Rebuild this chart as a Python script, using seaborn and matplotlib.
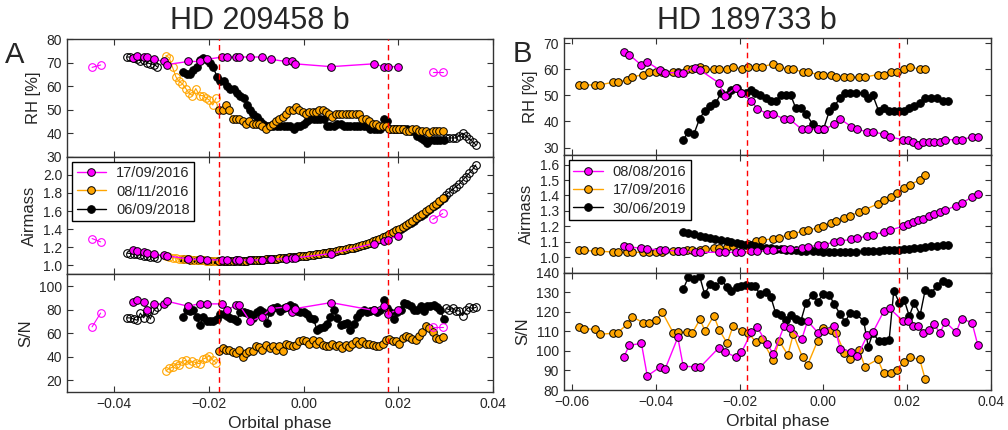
import matplotlib
matplotlib.use("Agg")
import matplotlib.pyplot as plt
from matplotlib.lines import Line2D
from matplotlib.ticker import FuncFormatter, MultipleLocator
import seaborn as sns

sns.set_style("ticks")
plt.rcParams['font.family'] = ['Liberation Sans', 'DejaVu Sans']

MAGENTA = '#FF00FF'
ORANGE = '#FFA500'
BLACK = '#000000'

# ---------------- HD 209458 b (panel A) ----------------
a_labels = ['17/09/2016', '08/11/2016', '06/09/2018']
a_transit = [-0.0179, 0.0179]

# 17/09/2016 (magenta)
mag_a_phase = [-0.0360, -0.0353, -0.0337, -0.0330, -0.0316, -0.0295, -0.0288, -0.0244, -0.0220,
               -0.0205, -0.0172, -0.0162, -0.0143, -0.0136, -0.0113, -0.0088, -0.0069, -0.0037,
               -0.0025, -0.0018, 0.0058, 0.0148, 0.0169, 0.0178, 0.0199]
mag_a_rh = [72, 73, 72.4, 72.4, 71.4, 70.5, 69.2, 70.5, 70.5, 71.4, 72.4, 72.4, 72.4, 72.4, 72.4,
            72.4, 71.4, 70.5, 70.5, 69.5, 68.3, 69.5, 68.3, 68.3, 68.3]
mag_a_am = [1.168, 1.160, 1.142, 1.135, 1.120, 1.113, 1.106, 1.070, 1.065, 1.062, 1.058, 1.058,
            1.058, 1.058, 1.058, 1.060, 1.065, 1.075, 1.080, 1.082, 1.130, 1.240, 1.270, 1.285, 1.325]
mag_a_sn = [86.3, 88.3, 86.3, 79.4, 84.9, 84.9, 87.1, 82.9, 85.1, 84.9, 84.9, 79.4, 84.0, 84.0,
            70.0, 74.0, 80.9, 82.3, 78.0, 80.9, 86.0, 79.4, 82.9, 76.6, 79.7]
mag_a_out_left_phase = [-0.0447, -0.0429]
mag_a_out_left_rh = [68, 69]
mag_a_out_left_am = [1.296, 1.259]
mag_a_out_left_sn = [65.4, 77.1]
mag_a_out_right_phase = [0.0273, 0.0294]
mag_a_out_right_rh = [66, 66]
mag_a_out_right_am = [1.507, 1.573]
mag_a_out_right_sn = [65.4, 65.4]

# 08/11/2016 (orange); the first 16 exposures are drawn as open circles
ora_a_n_out = 16
ora_a_phase = [-0.0291, -0.0284, -0.0277, -0.0270, -0.0263, -0.0256, -0.0249, -0.0242, -0.0235,
               -0.0228, -0.0220, -0.0213, -0.0206, -0.0199, -0.0192, -0.0185, -0.0178, -0.0171,
               -0.0164, -0.0157, -0.0150, -0.0143, -0.0136, -0.0129, -0.0122, -0.0115, -0.0108,
               -0.0101, -0.0094, -0.0087, -0.0079, -0.0072, -0.0065, -0.0058, -0.0051, -0.0044,
               -0.0037, -0.0030, -0.0023, -0.0016, -0.0009, -0.0002, 0.0005, 0.0012, 0.0019,
               0.0026, 0.0033, 0.0040, 0.0047, 0.0054, 0.0061, 0.0068, 0.0075, 0.0082, 0.0089,
               0.0096, 0.0103, 0.0110, 0.0117, 0.0124, 0.0132, 0.0139, 0.0146, 0.0153, 0.0160,
               0.0167, 0.0174, 0.0181, 0.0188, 0.0195, 0.0202, 0.0209, 0.0216, 0.0223, 0.0230,
               0.0237, 0.0244, 0.0251, 0.0258, 0.0265, 0.0273, 0.0280, 0.0287, 0.0294]
ora_a_rh = [73, 72, 68, 64, 62, 61, 59, 57, 56, 59, 56, 56, 55, 54, 52, 55,
            50, 50, 52, 50, 46, 46, 46, 45, 44, 45,
            44, 44, 44, 43, 42, 43, 44, 45, 46, 47,
            48, 50, 50, 51, 50, 49, 48, 49, 49, 49,
            50, 50, 49, 48, 47, 48, 48, 48, 48, 48,
            48, 48, 48, 46, 46, 45, 44, 44, 43, 43,
            43, 42, 42, 42, 42, 42, 41, 41, 42, 42,
            41, 41, 41, 40, 41, 41, 41, 41]
ora_a_am = [1.100, 1.090, 1.085, 1.080, 1.075, 1.070, 1.068, 1.065, 1.060, 1.058, 1.056, 1.055,
            1.053, 1.052, 1.050, 1.050,
            1.049, 1.048, 1.047, 1.047, 1.047, 1.047, 1.048, 1.050, 1.052, 1.054,
            1.056, 1.058, 1.060, 1.063, 1.065, 1.068, 1.071, 1.074, 1.077, 1.080,
            1.084, 1.088, 1.092, 1.095, 1.099, 1.103, 1.107, 1.111, 1.116, 1.120,
            1.125, 1.131, 1.137, 1.143, 1.150, 1.157, 1.164, 1.171, 1.178, 1.186,
            1.195, 1.205, 1.215, 1.225, 1.237, 1.250, 1.264, 1.278, 1.293, 1.310,
            1.328, 1.346, 1.365, 1.385, 1.405, 1.427, 1.449, 1.472, 1.495, 1.518,
            1.543, 1.570, 1.597, 1.625, 1.653, 1.683, 1.713, 1.745]
ora_a_sn = [28, 30, 31, 34, 33, 36, 37, 34, 36, 35, 34, 38, 39, 41, 37, 35,
            45, 47, 46, 46, 44, 43, 46, 40, 43, 45,
            45, 49, 48, 46, 50, 47, 49, 46, 49, 45,
            51, 50, 49, 50, 53, 54, 53, 51, 54, 51,
            53, 50, 49, 49, 51, 49, 50, 47, 50, 48,
            51, 53, 51, 53, 51, 51, 50, 49, 49, 51,
            54, 55, 53, 53, 51, 56, 58, 57, 55, 54,
            58, 61, 66, 64, 61, 56, 55, 57]

# 06/09/2018 (black): open circles before and after, filled in between
blk_a_pre_phase = [-0.0373, -0.0366, -0.0359, -0.0352, -0.0345, -0.0338, -0.0331, -0.0324,
                   -0.0316, -0.0309]
blk_a_pre_rh = [72.4, 72.4, 71.8, 71.4, 70.8, 71.0, 70.0, 69.5, 69.2, 68.2]
blk_a_pre_am = [1.135, 1.130, 1.125, 1.120, 1.114, 1.108, 1.102, 1.096, 1.090, 1.085]
blk_a_pre_sn = [73, 73, 72, 71, 77, 73, 78, 72, 80, 82]

blk_a_phase = [-0.0254, -0.0247, -0.0240, -0.0233, -0.0226, -0.0219, -0.0212, -0.0205, -0.0198,
               -0.0191, -0.0183, -0.0176, -0.0169, -0.0162, -0.0155, -0.0148, -0.0141, -0.0134,
               -0.0127, -0.0120, -0.0113, -0.0106, -0.0099, -0.0092, -0.0085, -0.0078, -0.0071,
               -0.0064, -0.0056, -0.0049, -0.0042, -0.0035, -0.0028, -0.0021, -0.0014, -0.0007,
               0.0000, 0.0007, 0.0014, 0.0021, 0.0028, 0.0035, 0.0042, 0.0049, 0.0056, 0.0064,
               0.0071, 0.0078, 0.0085, 0.0092, 0.0099, 0.0106, 0.0113, 0.0120, 0.0127, 0.0134,
               0.0141, 0.0148, 0.0155, 0.0162, 0.0169, 0.0176, 0.0183, 0.0191, 0.0198, 0.0205,
               0.0212, 0.0219, 0.0226, 0.0233, 0.0240, 0.0247, 0.0254, 0.0261, 0.0268, 0.0275,
               0.0282, 0.0289, 0.0296]
blk_a_rh = [66, 65, 65, 67, 68, 71, 72, 71, 70, 68,
            64, 62, 62, 60, 59, 59, 57, 56, 55, 52,
            50, 48, 47, 45, 44, 43, 43, 43, 43, 43,
            43, 43, 43, 42, 43, 43, 44, 45, 46, 46,
            46, 46, 46, 43, 43, 43, 44, 44, 43, 43,
            43, 43, 43, 43, 43, 43, 42, 42, 42, 42,
            46, 45, 42, 42, 42, 42, 42, 42, 41, 41,
            39, 38, 37, 36, 37, 37, 37, 37, 37]
blk_a_am = [1.068, 1.066, 1.063, 1.060, 1.058, 1.056, 1.054, 1.053, 1.051, 1.050,
            1.049, 1.049, 1.048, 1.047, 1.047, 1.047, 1.060, 1.048, 1.050, 1.052,
            1.054, 1.056, 1.058, 1.060, 1.063, 1.065, 1.068, 1.071, 1.074, 1.077,
            1.080, 1.084, 1.088, 1.092, 1.095, 1.099, 1.103, 1.107, 1.111, 1.116,
            1.120, 1.125, 1.131, 1.137, 1.143, 1.150, 1.157, 1.164, 1.171, 1.178,
            1.186, 1.195, 1.205, 1.215, 1.225, 1.237, 1.250, 1.264, 1.278, 1.293,
            1.310, 1.328, 1.346, 1.365, 1.385, 1.405, 1.427, 1.449, 1.472, 1.495,
            1.518, 1.543, 1.570, 1.597, 1.625, 1.653, 1.683, 1.713, 1.745]
blk_a_sn = [74, 80, 79, 80, 74, 67, 74, 70, 70, 70,
            72, 76, 76, 75, 73, 72, 70, 78, 78, 77,
            76, 73, 78, 80, 78, 69, 78, 81, 82, 79,
            81, 82, 84, 82, 79, 78, 78, 76, 73, 72,
            63, 64, 65, 68, 74, 80, 73, 67, 68, 69,
            63, 68, 74, 77, 80, 78, 79, 80, 78, 80,
            88, 81, 78, 72, 78, 80, 86, 85, 83, 80,
            80, 83, 79, 83, 83, 84, 82, 80, 72]

blk_a_post_phase = [0.0301, 0.0308, 0.0315, 0.0322, 0.0329, 0.0336, 0.0343, 0.0350, 0.0357, 0.0364]
blk_a_post_rh = [38, 38, 38, 38, 39, 40, 39, 37.6, 36.4, 35]
blk_a_post_am = [1.78, 1.81, 1.84, 1.87, 1.90, 1.94, 1.98, 2.02, 2.06, 2.11]
blk_a_post_sn = [81, 80, 81, 79, 79, 75, 80, 82, 81, 82]

# ---------------- HD 189733 b (panel B) ----------------
b_labels = ['08/08/2016', '17/09/2016', '30/06/2019']
b_transit = [-0.0183, 0.0181]

mag_b_phase = [-0.0477, -0.0464, -0.0435, -0.0421, -0.0391, -0.0378, -0.0348, -0.0335, -0.0308,
               -0.0295, -0.0250, -0.0236, -0.0210, -0.0196, -0.0172, -0.0158, -0.0134, -0.0120,
               -0.0094, -0.0081, -0.0052, -0.0038, -0.0012, 0.0002, 0.0026, 0.0040, 0.0067,
               0.0081, 0.0105, 0.0118, 0.0145, 0.0158, 0.0189, 0.0201, 0.0215, 0.0227, 0.0239,
               0.0253, 0.0265, 0.0278, 0.0291, 0.0317, 0.0330, 0.0355, 0.0369]
mag_b_rh = [66.8, 65.6, 61.6, 62.8, 59.7, 58.7, 58.7, 58.7, 60.6, 59.7,
            54.8, 49.7, 52.8, 50.9, 47.8, 44.9, 42.9, 42.9, 40.9, 40.9,
            37, 37, 37, 37, 38.9, 40.9, 38, 37, 36, 36,
            35.1, 34.1, 33, 33, 32, 31, 32, 32, 32, 32,
            33, 33, 33, 34.1, 34.1]
mag_b_am = [1.073, 1.067, 1.058, 1.054, 1.047, 1.045, 1.040, 1.039, 1.032, 1.032,
            1.032, 1.032, 1.032, 1.032, 1.039, 1.039, 1.045, 1.045, 1.052, 1.052,
            1.062, 1.067, 1.077, 1.082, 1.099, 1.105, 1.116, 1.123, 1.138, 1.146,
            1.163, 1.174, 1.200, 1.213, 1.228, 1.239, 1.249, 1.265, 1.277, 1.292,
            1.303, 1.335, 1.351, 1.389, 1.411]
mag_b_sn = [96.9, 102.8, 103.9, 87.2, 91.6, 90.9, 106.9, 92.1, 91.9, 91.6,
            101.6, 99.6, 96.9, 99.3, 109.5, 112.0, 103.5, 98.4, 112.7, 111.9,
            105.9, 115.3, 109.0, 110.2, 112.7, 101.0, 99.6, 97.4, 108.0, 109.5,
            120.6, 121.8, 115.5, 115.3, 112.7, 112.7, 109.3, 110.7, 113.6, 109.0,
            114.9, 109.5, 116.5, 114.4, 102.8]

ora_b_phase = [-0.0583, -0.0571, -0.0547, -0.0535, -0.0504, -0.0492, -0.0469, -0.0457, -0.0431,
               -0.0417, -0.0399, -0.0385, -0.0359, -0.0347, -0.0326, -0.0314, -0.0295, -0.0283,
               -0.0262, -0.0249, -0.0230, -0.0216, -0.0194, -0.0180, -0.0162, -0.0148, -0.0120,
               -0.0106, -0.0085, -0.0072, -0.0050, -0.0038, -0.0014, -0.0002, 0.0018, 0.0030,
               0.0050, 0.0064, 0.0085, 0.0099, 0.0130, 0.0144, 0.0161, 0.0176, 0.0193, 0.0206,
               0.0230, 0.0243]
ora_b_rh = [54, 54, 54, 54, 55, 55, 56, 57, 58, 59, 59, 59, 59, 59, 60, 60, 61, 60, 60, 60,
            60, 61, 60, 61, 61, 61, 62, 61, 60, 60, 59, 59, 58, 58, 58, 57, 57, 57, 57, 57,
            58, 58, 59, 59, 60, 61, 60, 60]
ora_b_am = [1.045, 1.045, 1.039, 1.039, 1.034, 1.034, 1.032, 1.032, 1.032, 1.032, 1.034, 1.034,
            1.038, 1.038, 1.044, 1.046, 1.050, 1.054, 1.060, 1.062, 1.067, 1.073, 1.082, 1.088,
            1.103, 1.110, 1.120, 1.127, 1.144, 1.153, 1.168, 1.174, 1.191, 1.200, 1.222, 1.232,
            1.254, 1.269, 1.292, 1.308, 1.346, 1.368, 1.389, 1.415, 1.449, 1.469, 1.501, 1.533]
ora_b_sn = [112.0, 111.4, 111.0, 108.5, 109.0, 109.3, 113.6, 117.5, 114.4, 114.4, 115.8, 119.7,
            109.3, 109.5, 109.5, 109.0, 116.1, 110.2, 118.0, 110.7, 103.9, 112.7, 110.0, 109.3,
            104.7, 106.1, 95.3, 105.2, 97.9, 108.6, 96.7, 92.8, 105.1, 111.5, 110.7, 109.3,
            99.0, 96.0, 100.5, 92.0, 95.7, 88.5, 88.5, 90.2, 94.5, 96.7, 95.7, 85.6]

blk_b_phase = [-0.0335, -0.0323, -0.0310, -0.0296, -0.0284, -0.0270, -0.0258, -0.0244, -0.0231,
               -0.0220, -0.0206, -0.0196, -0.0184, -0.0174, -0.0164, -0.0152, -0.0138, -0.0126,
               -0.0114, -0.0102, -0.0090, -0.0078, -0.0066, -0.0054, -0.0042, -0.0026, -0.0014,
               0.0000, 0.0014, 0.0026, 0.0040, 0.0052, 0.0064, 0.0077, 0.0096, 0.0107, 0.0118,
               0.0132, 0.0145, 0.0157, 0.0168, 0.0181, 0.0193, 0.0205, 0.0217, 0.0231, 0.0243,
               0.0257, 0.0271, 0.0285, 0.0297]
blk_b_rh = [33, 36, 35, 41, 44, 46, 47, 51, 50, 52,
            53, 51, 51, 52, 51, 50, 49, 48, 48, 50,
            50, 50, 45, 45, 43, 39, 37, 37, 44, 46,
            49, 51, 51, 51, 51, 49, 50, 44, 45, 44,
            44, 44, 44, 45, 46, 47, 49, 49, 49, 48,
            48]
blk_b_am = [1.163, 1.155, 1.148, 1.140, 1.133, 1.125, 1.119, 1.112, 1.106, 1.100,
            1.093, 1.088, 1.082, 1.077, 1.073, 1.068, 1.063, 1.059, 1.055, 1.052,
            1.049, 1.046, 1.044, 1.042, 1.040, 1.039, 1.038, 1.037, 1.036, 1.036,
            1.036, 1.036, 1.036, 1.037, 1.038, 1.039, 1.040, 1.042, 1.044, 1.046,
            1.048, 1.050, 1.053, 1.056, 1.059, 1.062, 1.066, 1.070, 1.074, 1.078,
            1.082]
blk_b_sn = [131.6, 137.6, 136.6, 138.3, 129.1, 134.2, 133.2, 136.3, 132.8, 130.8,
            132.8, 133.4, 133.7, 133.2, 133.2, 129.1, 130.3, 127.7, 119.2, 118.4,
            115.8, 118.4, 116.1, 115.3, 124.3, 128.6, 125.2, 129.1, 128.6, 123.8,
            118.7, 114.9, 119.5, 118.9, 115.5, 102.2, 109.0, 105.2, 105.2, 105.6,
            130.8, 124.7, 126.0, 117.8, 124.7, 118.4, 131.1, 129.4, 133.4, 135.9,
            134.5]


def draw(ax, x, y, color, hollow=False):
    if hollow:
        sns.lineplot(x=x, y=y, ax=ax, color=color, linewidth=0.8, marker='o', markersize=5.5,
                     markerfacecolor='none', markeredgecolor=color, markeredgewidth=0.8,
                     estimator=None, sort=False)
    else:
        sns.lineplot(x=x, y=y, ax=ax, color=color, linewidth=1.0, marker='o', markersize=5.5,
                     markerfacecolor=color, markeredgecolor='k', markeredgewidth=0.7,
                     estimator=None, sort=False)


def style_axes(axs, xlim, transit):
    for k, ax in enumerate(axs):
        ax.set_xlim(*xlim)
        ax.xaxis.set_major_locator(MultipleLocator(0.02))
        ax.xaxis.set_major_formatter(FuncFormatter(lambda v, p: f"{v:.2f}".replace('-', '\u2212')))
        ax.tick_params(direction='in', top=True, right=True, length=4, width=0.8,
                       labelsize=10, color='#333333', labelbottom=(k == 2))
        for s in ax.spines.values():
            s.set_color('#333333')
            s.set_linewidth(1.0)
        for t in transit:
            ax.axvline(t, color='red', linestyle=(0, (4, 3)), linewidth=1.0, zorder=3)
    axs[2].set_xlabel('Orbital phase', fontsize=12.5)


def legend(ax, labels):
    handles = [Line2D([], [], color=c, marker='o', markerfacecolor=c, markeredgecolor='k',
                      markeredgewidth=0.7, markersize=5.5, linewidth=1.0)
               for c in (MAGENTA, ORANGE, BLACK)]
    leg = ax.legend(handles, labels, loc='upper left', fontsize=10.5, frameon=True,
                    fancybox=False, edgecolor='k', framealpha=1, borderaxespad=0.35,
                    borderpad=0.3, handlelength=2.0, handletextpad=0.7, labelspacing=0.3)
    leg.get_frame().set_linewidth(1.0)
    leg.set_zorder(5)


fig = plt.figure(figsize=(10.08, 4.30), dpi=100)


def column(left, right, bottom, top):
    h = (top - bottom) / 3
    return [fig.add_axes([left, bottom + (2 - k) * h, right - left, h]) for k in range(3)]


# ---- panel A ----
axA = column(0.0665, 0.489, 0.0884, 0.909)
for ax, key in zip(axA, ('rh', 'am', 'sn')):
    pre = {'rh': blk_a_pre_rh, 'am': blk_a_pre_am, 'sn': blk_a_pre_sn}[key]
    mid = {'rh': blk_a_rh, 'am': blk_a_am, 'sn': blk_a_sn}[key]
    post = {'rh': blk_a_post_rh, 'am': blk_a_post_am, 'sn': blk_a_post_sn}[key]
    ora = {'rh': ora_a_rh, 'am': ora_a_am, 'sn': ora_a_sn}[key]
    mag = {'rh': mag_a_rh, 'am': mag_a_am, 'sn': mag_a_sn}[key]
    ml = {'rh': mag_a_out_left_rh, 'am': mag_a_out_left_am, 'sn': mag_a_out_left_sn}[key]
    mr = {'rh': mag_a_out_right_rh, 'am': mag_a_out_right_am, 'sn': mag_a_out_right_sn}[key]
    draw(ax, blk_a_pre_phase, pre, BLACK, hollow=True)
    draw(ax, blk_a_post_phase, post, BLACK, hollow=True)
    draw(ax, blk_a_phase, mid, BLACK)
    draw(ax, ora_a_phase[:ora_a_n_out], ora[:ora_a_n_out], ORANGE, hollow=True)
    draw(ax, ora_a_phase[ora_a_n_out:], ora[ora_a_n_out:], ORANGE)
    draw(ax, mag_a_out_left_phase, ml, MAGENTA, hollow=True)
    draw(ax, mag_a_out_right_phase, mr, MAGENTA, hollow=True)
    draw(ax, mag_a_phase, mag, MAGENTA)

axA[0].set_ylim(30, 80)
axA[0].set_yticks([30, 40, 50, 60, 70, 80])
axA[0].set_ylabel('RH [%]', fontsize=12)
axA[1].set_ylim(0.9, 2.2)
axA[1].set_yticks([1.0, 1.2, 1.4, 1.6, 1.8, 2.0])
axA[1].yaxis.set_major_formatter(FuncFormatter(lambda v, p: f"{v:.1f}"))
axA[1].set_ylabel('Airmass', fontsize=12)
axA[2].set_ylim(10, 110)
axA[2].set_yticks([20, 40, 60, 80, 100])
axA[2].set_ylabel('S/N', fontsize=12)
style_axes(axA, (-0.05, 0.04), a_transit)
legend(axA[1], a_labels)

# ---- panel B ----
axB = column(0.5595, 0.983, 0.093, 0.9116)
for ax, key in zip(axB, ('rh', 'am', 'sn')):
    blk = {'rh': blk_b_rh, 'am': blk_b_am, 'sn': blk_b_sn}[key]
    ora = {'rh': ora_b_rh, 'am': ora_b_am, 'sn': ora_b_sn}[key]
    mag = {'rh': mag_b_rh, 'am': mag_b_am, 'sn': mag_b_sn}[key]
    draw(ax, ora_b_phase, ora, ORANGE)
    draw(ax, blk_b_phase, blk, BLACK)
    draw(ax, mag_b_phase, mag, MAGENTA)

axB[0].set_ylim(27, 72)
axB[0].set_yticks([30, 40, 50, 60, 70])
axB[0].set_ylabel('RH [%]', fontsize=12)
axB[1].set_ylim(0.9, 1.66)
axB[1].set_yticks([1.0, 1.1, 1.2, 1.3, 1.4, 1.5, 1.6])
axB[1].yaxis.set_major_formatter(FuncFormatter(lambda v, p: f"{v:.1f}"))
axB[1].set_ylabel('Airmass', fontsize=12)
axB[2].set_ylim(80, 140)
axB[2].set_yticks([80, 90, 100, 110, 120, 130, 140])
axB[2].set_ylabel('S/N', fontsize=12)
style_axes(axB, (-0.062, 0.04), b_transit)
legend(axB[1], b_labels)

# titles and panel letters
fig.text(260 / 1008, 1 - 29 / 430, 'HD 209458 b', ha='center', va='baseline', fontsize=22)
fig.text(747 / 1008, 1 - 29 / 430, 'HD 189733 b', ha='center', va='baseline', fontsize=22)
fig.text(15 / 1008, 1 - 63 / 430, 'A', ha='center', va='baseline', fontsize=21)
fig.text(522 / 1008, 1 - 62 / 430, 'B', ha='center', va='baseline', fontsize=21)

fig.savefig('out.png', dpi=100)
